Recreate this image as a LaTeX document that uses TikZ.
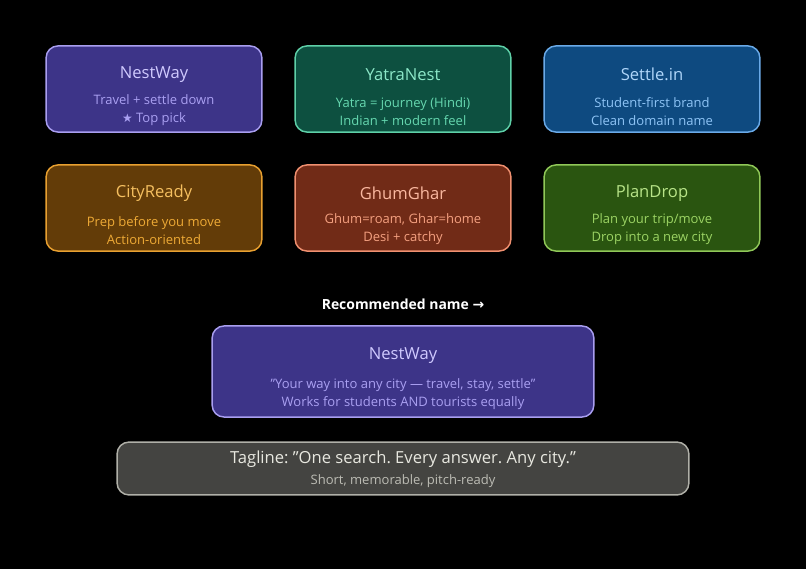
\documentclass[tikz,border=0pt]{standalone}
\usepackage{fontspec}
\setmainfont{Open Sans}
\newfontfamily\symfont{DejaVu Sans}
\usetikzlibrary{positioning}
\newcommand\dq{\char34 }
\definecolor{nwFill}{HTML}{3D3488}\definecolor{nwLine}{HTML}{A99EF0}\definecolor{nwText}{HTML}{D0CAFF}\definecolor{nwSub}{HTML}{AAA0F2}
\definecolor{ynFill}{HTML}{0D5040}\definecolor{ynLine}{HTML}{5ED0A8}\definecolor{ynText}{HTML}{8CE8C8}\definecolor{ynSub}{HTML}{66D8B0}
\definecolor{siFill}{HTML}{0E4A80}\definecolor{siLine}{HTML}{6AAAE8}\definecolor{siText}{HTML}{B0D6FA}\definecolor{siSub}{HTML}{8EC4F6}
\definecolor{crFill}{HTML}{633C08}\definecolor{crLine}{HTML}{E8A030}\definecolor{crText}{HTML}{F6C060}\definecolor{crSub}{HTML}{EEAA36}
\definecolor{ggFill}{HTML}{712B17}\definecolor{ggLine}{HTML}{F09070}\definecolor{ggText}{HTML}{FAB8A0}\definecolor{ggSub}{HTML}{F4A080}
\definecolor{pdFill}{HTML}{2A5510}\definecolor{pdLine}{HTML}{90C858}\definecolor{pdText}{HTML}{B8E488}\definecolor{pdSub}{HTML}{9CD464}
\definecolor{tgFill}{HTML}{444441}\definecolor{tgLine}{HTML}{B0B0A8}\definecolor{tgText}{HTML}{E8E8E0}\definecolor{tgSub}{HTML}{BCBCB4}

\begin{document}
\frenchspacing
\begin{tikzpicture}
    [
        x=0.0264583cm, y=-0.0264583cm,
        Card/.style args={#1/#2}{rectangle, rounded corners=9pt, line width=1.1pt,
            fill=#1Fill, draw=#1Line, minimum width=#2, minimum height=2.28cm, align=center, inner sep=0pt},
        Title/.style={font=\fontsize{12.5}{15}\selectfont},
        Sub/.style={font=\fontsize{9.8}{13.5}\selectfont, align=center}
    ]
    \fill[black] (0,0) rectangle (806,569);

    % first row
    \node[Card={nw/5.71cm}] (NestWay) at (154,89) {};
    \node[Card={yn/5.71cm}] (YatraNest) at (403,89) {};
    \node[Card={si/5.71cm}] (SettleIn) at (652,89) {};
    % second row
    \node[Card={cr/5.71cm}] (CityReady) at (154,208) {};
    \node[Card={gg/5.71cm}] (GhumGhar) at (403,208) {};
    \node[Card={pd/5.71cm}] (PlanDrop) at (652,208) {};

    \foreach \card/\col/\title/\lineA/\lineB in {
        NestWay/nw/NestWay/{Travel + settle down}/{{\symfont\small★} Top pick},
        YatraNest/yn/YatraNest/{Yatra = journey (Hindi)}/{Indian + modern feel},
        SettleIn/si/Settle.in/{Student-first brand}/{Clean domain name},
        CityReady/cr/CityReady/{Prep before you move}/{Action-oriented},
        GhumGhar/gg/GhumGhar/{Ghum=roam, Ghar=home}/{Desi + catchy},
        PlanDrop/pd/PlanDrop/{Plan your trip/move}/{Drop into a new city}}
    {
        \node[Title, text=\col Text] at ([yshift=-0.77cm]\card.north) {\title};
        \node[Sub, text=\col Sub, anchor=south] at ([yshift=0.07cm]\card.south) {\lineA\\\lineB};
    }

    \node[font=\fontsize{10.5}{13}\selectfont\bfseries, text=white] (Recommend) at (403,304) {Recommended name {\symfont →}};

    \node[Card={nw/10.1cm}, minimum height=2.41cm] (Winner) at (403,371.5) {};
    \node[Title, text=nwText] at (403,356) {NestWay};
    \node[Sub, text=nwSub] at (403,394) {\dq Your way into any city — travel, stay, settle\dq\\Works for students AND tourists equally};

    \node[Card={tg/15.13cm}, minimum height=1.4cm] (Tagline) at (403,468.5) {};
    \node[Title, text=tgText] at (403,459) {Tagline: \dq One search. Every answer. Any city.\dq};
    \node[Sub, text=tgSub] at (403,481) {Short, memorable, pitch-ready};
\end{tikzpicture}
\end{document}
